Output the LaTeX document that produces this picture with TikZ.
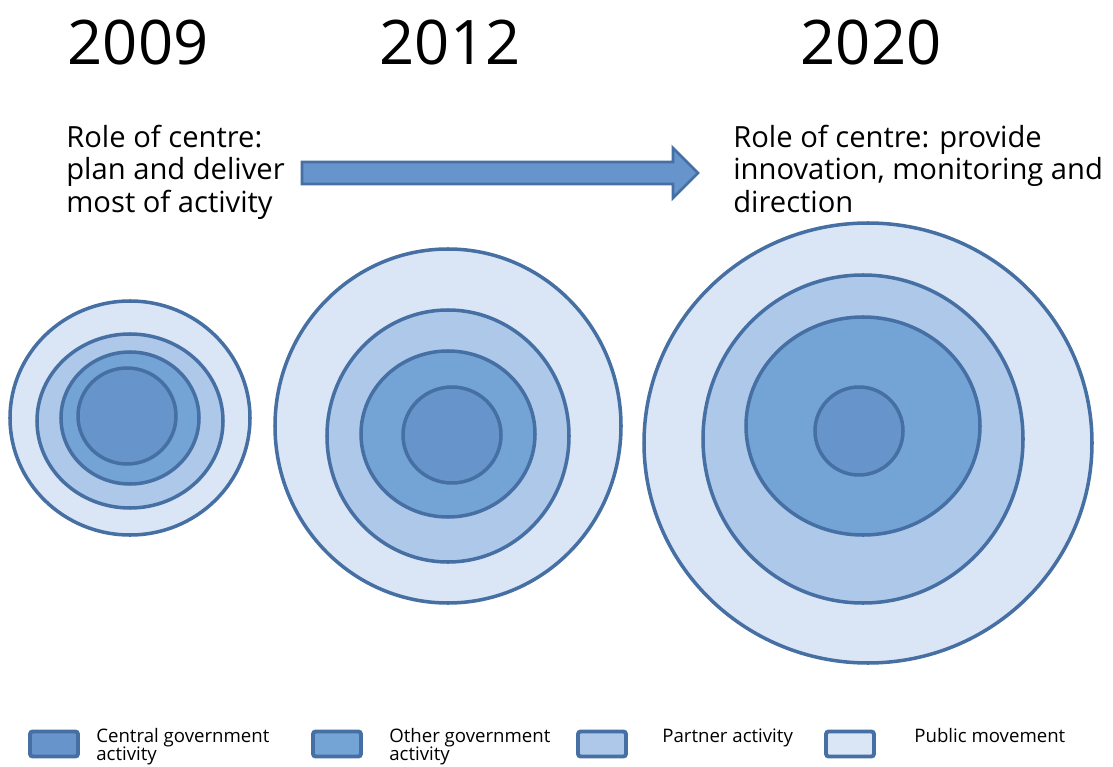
\documentclass[tikz,border=0pt]{standalone}
\usepackage{fontspec}
\setmainfont{Open Sans}
\usetikzlibrary{positioning}

\definecolor{ringline}{RGB}{70,111,163}
\definecolor{central}{RGB}{103,149,203}
\definecolor{othergov}{RGB}{116,164,214}
\definecolor{partner}{RGB}{174,200,233}
\definecolor{public}{RGB}{218,229,245}

\begin{document}
\begin{tikzpicture}[x=0.02cm, y=-0.02cm]
    \tikzstyle{ring} = [draw=ringline, line width=2pt];
    \tikzstyle{year} = [anchor=base, inner sep=0, font=\fontsize{35}{37}\selectfont];
    \tikzstyle{role} = [anchor=north west, inner sep=0, align=left, font=\fontsize{16.6}{18.4}\selectfont];
    \tikzstyle{keybox} = [draw=ringline, line width=2.2pt, rounded corners=1.5pt, minimum width=0.96cm, minimum height=0.5cm, inner sep=0];
    \tikzstyle{keytext} = [anchor=north west, inner sep=0, align=left, font=\fontsize{10.6}{10.4}\selectfont];

    \useasboundingbox (0,0) rectangle (1113,767);
    \clip (0,0) rectangle (1113,767);

    % years
    \node[year] at (138, 65) (y2009) {2009};
    \node[year] at (450, 65) (y2012) {2012};
    \node[year] at (871, 65) (y2020) {2020};

    % role of the centre
    \node[role] at (66, 125) (roleold) {Role of centre:\\plan and deliver\\most of activity};
    \node[role] at (733, 125) (rolenew) {Role of centre: provide\\innovation, monitoring and\\direction};

    \draw[ringline, line width=1.6pt, fill=central, line join=miter]
        (302,162) -- (673,162) -- (673,148) -- (698,173) -- (673,198) -- (673,184) -- (302,184) -- cycle;

    % 2009
    \draw[ring, fill=public]   (130,418) ellipse (120 and 117);
    \draw[ring, fill=partner]  (130,421) ellipse (93 and 87);
    \draw[ring, fill=othergov] (130,418) ellipse (69 and 66);
    \draw[ring, fill=central]  (127,416) ellipse (49 and 48);

    % 2012
    \draw[ring, fill=public]   (448,426) ellipse (173 and 177);
    \draw[ring, fill=partner]  (448,436) ellipse (121 and 126);
    \draw[ring, fill=othergov] (448,434) ellipse (87 and 83);
    \draw[ring, fill=central]  (452,435) ellipse (49 and 48);

    % 2020
    \draw[ring, fill=public]   (868,443) ellipse (224 and 220);
    \draw[ring, fill=partner]  (863,439) ellipse (160 and 164);
    \draw[ring, fill=othergov] (863,426) ellipse (117 and 109);
    \draw[ring, fill=central]  (859,431) ellipse (44 and 44);

    % key
    \node[keybox, fill=central]  at (54, 744)  (keycentral) {};
    \node[keybox, fill=othergov] at (337, 744) (keyother) {};
    \node[keybox, fill=partner]  at (602, 744) (keypartner) {};
    \node[keybox, fill=public]   at (850, 744) (keypublic) {};

    \node[keytext] at (96, 728)  (txtcentral) {Central government\\activity};
    \node[keytext] at (389, 728) (txtother) {Other government\\activity};
    \node[keytext] at (662, 728) (txtpartner) {Partner activity};
    \node[keytext] at (914, 728) (txtpublic) {Public movement};
\end{tikzpicture}
\end{document}
